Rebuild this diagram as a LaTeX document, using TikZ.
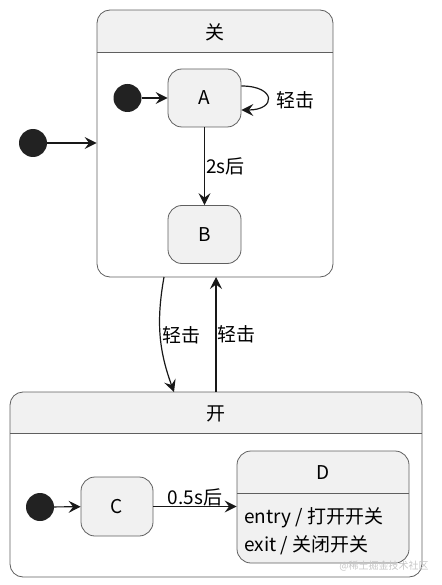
\documentclass[tikz,border=0pt]{standalone}
\usepackage{fontspec}
\setmainfont{Noto Sans CJK SC}
\usetikzlibrary{arrows.meta}
\definecolor{stategray}{HTML}{F1F1F1}
\definecolor{lineclr}{HTML}{181818}
\definecolor{bordclr}{HTML}{5F5F5F}
\definecolor{dotclr}{HTML}{222222}
\tikzset{
  state/.style={draw=bordclr, fill=stategray, rounded corners=14, line width=0.8, minimum width=73, minimum height=58, inner sep=0},
  composite/.style={draw=bordclr, rounded corners=13, line width=0.8, inner sep=0},
  startdot/.style={circle, fill=dotclr, minimum size=28, inner sep=0},
  trans/.style={draw=lineclr, line width=1.2, -{Stealth[length=12,width=12,inset=4.5]}},
}
\def\headfill(#1)(#2:#3){\begin{scope}\clip[rounded corners=13] (#1) rectangle (#2); \fill[stategray] (#1) rectangle (#3); \end{scope}}

\begin{document}
\begin{tikzpicture}[x=1pt, y=-1pt, every node/.style={font=\fontsize{19}{22}\selectfont}]
	%%%%% START %%%%%
	\useasboundingbox (0,0) rectangle (441,585);
	
	% composite state "off"
	\headfill(97,10)(333,277:333,52)
	\node[composite, minimum width=236, minimum height=267] (off) at (215,143.5) {};
	\draw[bordclr, line width=0.8] (97,52) -- (333,52);
	\node (offtitle) at (215,32) {关};
	
	% composite state "on"
	\headfill(10,392)(422,577:422,433)
	\node[composite, minimum width=412, minimum height=185] (on) at (216,484.5) {};
	\draw[bordclr, line width=0.8] (10,433) -- (422,433);
	\node (ontitle) at (216,414) {开};
	
	% states
	\node[startdot] (init0) at (33,143) {};
	\node[startdot] (init1) at (127.5,98) {};
	\node[startdot] (init2) at (40,507) {};
	\node[state] (A) at (204.5,98) {A};
	\node[state] (B) at (204.5,234.5) {B};
	\node[state, minimum width=72, minimum height=59] (C) at (117,506.5) {C};
	\node[state, minimum width=172, minimum height=112] (D) at (323,507) {};
	\node (Dtitle) at (323,473) {D};
	\draw[bordclr, line width=0.8] (237,493) -- (409,493);
	\node[anchor=west, inner sep=0] (Dentry) at (244,518) {entry / 打开开关};
	\node[anchor=west, inner sep=0] (Dexit) at (244,545) {exit / 关闭开关};
	
	% transitions
	\draw[trans] (init0) -- (off.west |- init0);
	\draw[trans] (init1) -- (A);
	\draw[trans] (A) -- node[right, inner sep=1] (lbl2s) {2s后} (B);
	\draw[trans] ([yshift=12]A.east) .. controls +(35,0) and +(35,0) .. ([yshift=-12]A.east);
	\node (lblloop) at (295,100) {轻击};
	
	\coordinate (offout) at (164,277);
	\coordinate (onin) at (174,392);
	\coordinate (onout) at (216,392);
	\coordinate (offin) at (216,277);
	\draw[trans] (offout) to[bend right=15] node[right, inner sep=2, pos=0.5] (lbldown) {轻击} (onin);
	\draw[trans] (onout) -- node[right, inner sep=1] (lblup) {轻击} (offin);
	
	\draw[trans] (init2) -- (C);
	\draw[trans] (C) -- node[above, inner sep=0] (lbl05s) {0.5s后} (C -| D.west);
	
	\node[text=gray!45, font=\fontsize{10}{11}\selectfont] (mark) at (384,566) {@稀土掘金技术社区};
	%%%%% END %%%%%
\end{tikzpicture}
\end{document}
